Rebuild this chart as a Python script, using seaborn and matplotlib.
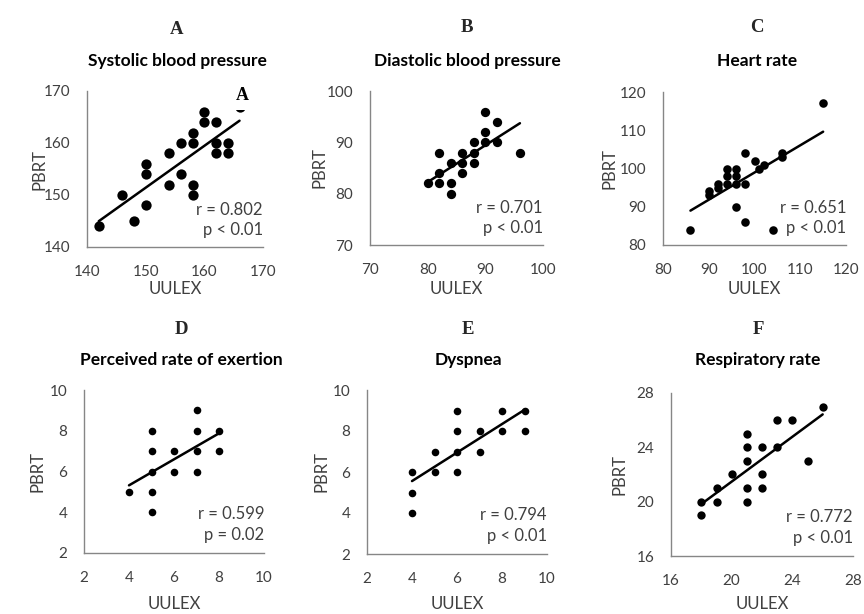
import matplotlib
matplotlib.use("Agg")
import matplotlib.pyplot as plt
import seaborn as sns
import pandas as pd

# ---------------- data ----------------
sbp_x = [142, 146, 148, 150, 150, 150, 154, 154, 156, 156, 158, 158, 158, 158,
         160, 160, 162, 162, 162, 164, 164, 166]
sbp_y = [144, 150, 145, 156, 154, 148, 158, 152, 160, 154, 162, 160, 152, 150,
         166, 164, 164, 160, 158, 160, 158, 167]

dbp_x = [80, 82, 82, 82, 84, 84, 84, 86, 86, 86, 88, 88, 88, 90, 90, 90, 92, 92, 96]
dbp_y = [82, 88, 84, 82, 86, 82, 80, 88, 86, 84, 90, 88, 86, 96, 92, 90, 94, 90, 88]

hr_x = [86, 90, 90, 92, 92, 94, 94, 94, 96, 96, 96, 96, 98, 98, 98,
        100, 101, 102, 104, 106, 106, 115]
hr_y = [84, 94, 93, 96, 95, 100, 98, 96, 100, 98, 96, 90, 104, 96, 86,
        102, 100, 101, 84, 104, 103, 117]

rpe_x = [4, 5, 5, 5, 5, 5, 6, 6, 7, 7, 7, 7, 8, 8]
rpe_y = [5, 8, 7, 6, 5, 4, 7, 6, 9, 8, 7, 6, 8, 7]

dys_x = [4, 4, 4, 5, 5, 6, 6, 6, 6, 7, 7, 8, 8, 9, 9]
dys_y = [6, 5, 4, 7, 6, 9, 8, 7, 6, 8, 7, 9, 8, 9, 8]

rr_x = [18, 18, 19, 19, 20, 21, 21, 21, 21, 21, 22, 22, 22, 23, 23, 24, 25, 26]
rr_y = [20, 19, 21, 20, 22, 25, 24, 23, 21, 20, 24, 22, 21, 26, 24, 26, 23, 27]

letters = ["A", "B", "C", "D", "E", "F"]
titles = ["Systolic blood pressure", "Diastolic blood pressure", "Heart rate",
          "Perceived rate of exertion", "Dyspnea", "Respiratory rate"]
r_texts = ["r = 0.802", "r = 0.701", "r = 0.651", "r = 0.599", "r = 0.794", "r = 0.772"]
p_texts = ["p < 0.01", "p < 0.01", "p < 0.01", "p = 0.02", "p < 0.01", "p < 0.01"]
xticks = [[140, 150, 160, 170], [70, 80, 90, 100], [80, 90, 100, 110, 120],
          [2, 4, 6, 8, 10], [2, 4, 6, 8, 10], [16, 20, 24, 28]]
yticks = [[140, 150, 160, 170], [70, 80, 90, 100], [80, 90, 100, 110, 120],
          [2, 4, 6, 8, 10], [2, 4, 6, 8, 10], [16, 20, 24, 28]]
xs = [sbp_x, dbp_x, hr_x, rpe_x, dys_x, rr_x]
ys = [sbp_y, dbp_y, hr_y, rpe_y, dys_y, rr_y]

# ---------------- style ----------------
sns.set_style("white")
plt.rcParams['font.family'] = ['Lato', 'DejaVu Sans']

W, H = 864, 614
fig = plt.figure(figsize=(W / 100, H / 100), dpi=100)

# pixel boxes (left, top, right, bottom)
boxes = [(87, 91, 263, 247), (370, 91, 543, 245), (663, 92, 846, 245),
         (84, 390, 264, 553), (367, 390, 547, 554), (671, 393, 853, 556)]
head_x = [177, 467, 757, 181, 468, 758]
head_letter_y = [30, 28, 28, 330, 330, 330]
head_title_y = [61, 61, 61, 360, 360, 360]
ylab_x = [40, 320, 610, 38, 322, 620]
xlab_y = [289, 289, 289, 604, 604, 604]
marker_s = [55, 45, 38, 30, 30, 36]

spine_col = "#868686"
text_col = "#404040"
serif = ["Liberation Serif", "DejaVu Serif"]

for i in range(6):
    l, t, r, b = boxes[i]
    ax = fig.add_axes([l / W, 1 - b / H, (r - l) / W, (b - t) / H])
    df = pd.DataFrame({"UULEX": xs[i], "PBRT": ys[i]})
    sns.regplot(data=df, x="UULEX", y="PBRT", ax=ax, ci=None, truncate=True,
                scatter_kws=dict(s=marker_s[i], color="black", alpha=1,
                                 linewidths=0, zorder=3),
                line_kws=dict(color="black", lw=1.8, zorder=2))
    ax.set_xlim(xticks[i][0], xticks[i][-1])
    ax.set_ylim(yticks[i][0], yticks[i][-1])
    ax.set_xticks(xticks[i])
    ax.set_yticks(yticks[i])
    ax.set_xlabel("")
    ax.set_ylabel("")
    for s in ["top", "right"]:
        ax.spines[s].set_visible(False)
    for s in ["left", "bottom"]:
        ax.spines[s].set_color(spine_col)
        ax.spines[s].set_linewidth(1.0)
    ax.tick_params(axis="both", direction="out", length=4, width=1.0, color=spine_col,
                   labelsize=11, labelcolor=text_col, pad=8)
    ax.tick_params(axis="x", pad=9)
    ax.text(1.0, 0.24, r_texts[i], transform=ax.transAxes, ha="right", va="center",
            fontsize=12, color=text_col)
    ax.text(1.0, 0.11, p_texts[i], transform=ax.transAxes, ha="right", va="center",
            fontsize=12, color=text_col)
    if i == 0:
        ax.text(166.4, 169.2, "A", ha="center", va="center", fontsize=13,
                fontweight="bold", family=serif, color="black", zorder=5,
                clip_on=False,
                bbox=dict(facecolor="white", edgecolor="none", pad=4.5))

    fig.text(head_x[i] / W, 1 - head_letter_y[i] / H, letters[i], ha="center", va="center",
             fontsize=13.5, fontweight="bold", family=serif)
    fig.text(head_x[i] / W, 1 - head_title_y[i] / H, titles[i], ha="center", va="center",
             fontsize=12.5, fontweight="bold", color="black")
    fig.text(ylab_x[i] / W, 1 - ((t + b) / 2) / H, "PBRT", ha="center", va="center",
             rotation=90, fontsize=12, color=text_col)
    fig.text(((l + r) / 2) / W, 1 - xlab_y[i] / H, "UULEX", ha="center", va="center",
             fontsize=12, color=text_col)

fig.savefig("out.png", dpi=100, facecolor="white")
